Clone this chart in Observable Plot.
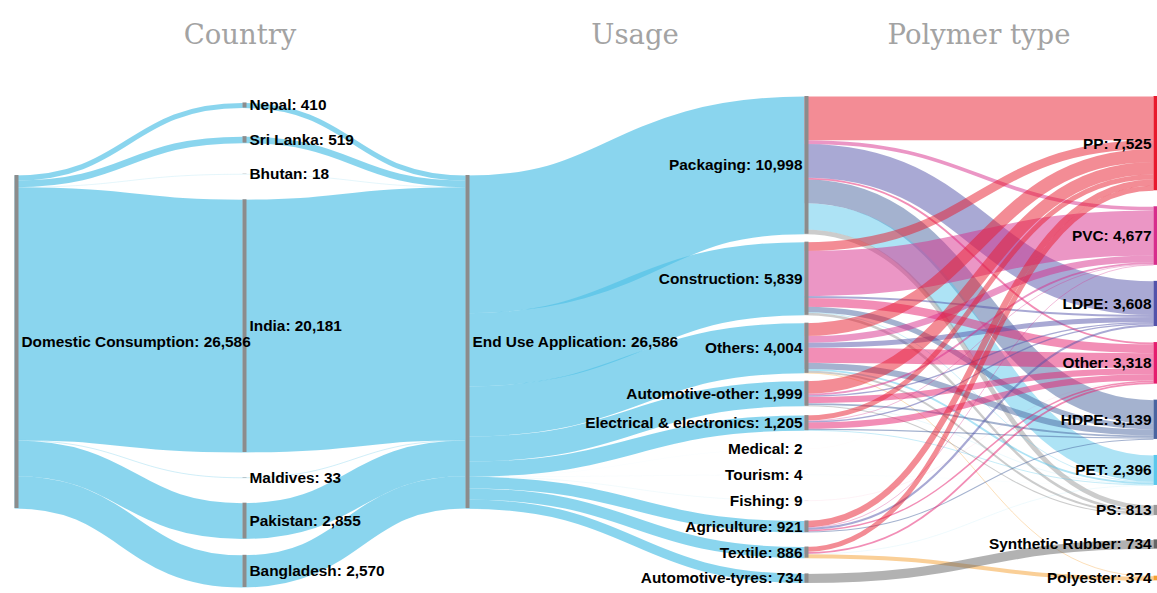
<!DOCTYPE html>
<html>
<head>
<meta charset="utf-8">
<script src="https://cdn.jsdelivr.net/npm/d3@7"></script>
<script src="https://cdn.jsdelivr.net/npm/@observablehq/plot@0.6"></script>
<style>
  html, body { margin: 0; padding: 0; background: #fff; }
  svg { display: block; }
</style>
</head>
<body>
<div id="chart"></div>
<script>
// ---------------- DATA ----------------
const rootName = "Domestic Consumption";
const rootValue = 26586;

const countries = ["Nepal", "Sri Lanka", "Bhutan", "India", "Maldives", "Pakistan", "Bangladesh"];
const countryValues = [410, 519, 18, 20181, 33, 2855, 2570];

const midName = "End Use Application";
const midValue = 26586;

const usages = ["Packaging", "Construction", "Others", "Automotive-other", "Electrical & electronics",
                "Medical", "Tourism", "Fishing", "Agriculture", "Textile", "Automotive-tyres"];
const usageValues = [10998, 5839, 4004, 1999, 1205, 2, 4, 9, 921, 886, 734];

const polymers = ["PP", "PVC", "LDPE", "Other", "HDPE", "PET", "PS", "Synthetic Rubber", "Polyester"];
const polymerValues = [7525, 4677, 3608, 3318, 3139, 2396, 813, 734, 374];

// usage (rows) -> polymer (columns)
const usagePolymerFlows = [
  // PP   PVC   LDPE  Other HDPE  PET   PS   SR   Polyester
  [3489,  300, 2688,  150, 1886, 2102, 383,   0,   0], // Packaging
  [ 700, 3600,  150,  700,  439,   50, 200,   0,   0], // Construction
  [1034,  527,  400, 1189,  500,  150, 150,   0,  54], // Others
  [1000,  150,  100,  500,  150,   19,  80,   0,   0], // Automotive-other
  [ 400,   50,  100,  500,  100,   55,   0,   0,   0], // Electrical & electronics
  [   2,    0,    0,    0,    0,    0,   0,   0,   0], // Medical
  [   0,    0,    0,    0,    0,    4,   0,   0,   0], // Tourism
  [   0,    0,    0,    9,    0,    0,   0,   0,   0], // Fishing
  [ 500,   50,  170,  120,   81,    0,   0,   0,   0], // Agriculture
  [ 400,    0,    0,  150,    0,   16,   0,   0, 320], // Textile
  [   0,    0,    0,    0,    0,    0,   0, 734,   0]  // Automotive-tyres
];

const columnTitles = ["Country", "Usage", "Polymer type"];

// ---------------- STYLE / LAYOUT CONFIG ----------------
const nodeGray = "#8c8c8c";
const flowBlue = "#52c1e6";
const polymerColors = {
  "PP": "#e8192c",
  "PVC": "#d72d8c",
  "LDPE": "#5353aa",
  "Other": "#e51e6e",
  "HDPE": "#4a65a0",
  "PET": "#5bc8ec",
  "PS": "#9a9a9a",
  "Synthetic Rubber": "#666666",
  "Polyester": "#f5a030"
};
// horizontal offset of each column of nodes (layout units along the x scale)
const columnOffsets = [0, 228, 451, 790, 1139];
const W = 1157, H = 593;
const yRange = [96, 587];
const padUnits = 1260;     // minimum spacing between nodes of the densest column (value units)
const labelSlotPx = 18;    // every node reserves at least one label line

// ---------------- LAYOUT ----------------
const nodes = [];
function addNode(name, value, col, color) {
  const n = {name, value, col, x: columnOffsets[col], color, out: [], inc: []};
  nodes.push(n);
  return n;
}
const root = addNode(rootName, rootValue, 0, nodeGray);
const countryNodes = countries.map((c, i) => addNode(c, countryValues[i], 1, nodeGray));
const mid = addNode(midName, midValue, 2, nodeGray);
const usageNodes = usages.map((u, i) => addNode(u, usageValues[i], 3, nodeGray));
const polymerNodes = polymers.map((p, i) => addNode(p, polymerValues[i], 4, polymerColors[p]));

const links = [];
function addLink(s, t, v, level, color) {
  const l = {source: s, target: t, value: v, level, color};
  s.out.push(l); t.inc.push(l); links.push(l);
}
countryNodes.forEach(n => addLink(root, n, n.value, 1, flowBlue));
countryNodes.forEach(n => addLink(n, mid, n.value, 1, flowBlue));
usageNodes.forEach(n => addLink(mid, n, n.value, 1, flowBlue));
usagePolymerFlows.forEach((row, i) => row.forEach((v, j) => {
  if (v > 0) addLink(usageNodes[i], polymerNodes[j], v, 2, polymerColors[polymers[j]]);
}));

const columns = d3.groups(nodes, d => d.col).map(g => g[1]);
const span = d3.max(columns, c => d3.sum(c, d => d.value) + (c.length - 1) * padUnits);
const k = (yRange[1] - yRange[0]) / span; // pixels per value unit
const minSlot = labelSlotPx / k;
for (const c of columns) {
  const total = d3.sum(c, d => d.value);
  if (c.length === 1) {
    c[0].y0 = (span - total) / 2; c[0].y1 = c[0].y0 + total;
  } else {
    const slots = c.map(n => Math.max(n.value, minSlot));
    const pad = (span - d3.sum(slots)) / (c.length - 1);
    let y = 0;
    c.forEach((n, i) => {
      n.y0 = y + (slots[i] - n.value) / 2;
      n.y1 = n.y0 + n.value;
      y += slots[i] + pad;
    });
  }
}
for (const n of nodes) {
  n.out.sort((a, b) => a.target.y0 - b.target.y0);
  n.inc.sort((a, b) => a.source.y0 - b.source.y0);
  let y = n.y0;
  for (const l of n.out) { l.sy = y + l.value / 2; y += l.value; }
  y = n.y0;
  for (const l of n.inc) { l.ty = y + l.value / 2; y += l.value; }
}

const fmt = d3.format(",");
const titleSpans = [[0, 2], [2, 3], [3, 4]];
const titles = columnTitles.map((t, i) => ({
  t, x: (columnOffsets[titleSpans[i][0]] + columnOffsets[titleSpans[i][1]]) / 2
}));

const linkOpts = {
  x1: l => l.source.x, y1: "sy",
  x2: l => l.target.x, y2: "ty",
  stroke: "color",
  strokeWidth: l => l.value * k,
  curve: "bump-x",
  strokeLinecap: "butt"
};

const chart = Plot.plot({
  width: W, height: H,
  margin: 0,
  x: {domain: [0, 1139], range: [14, 1153], axis: null},
  y: {domain: [0, span], range: yRange, axis: null},
  color: {type: "identity"},
  style: {fontFamily: "'Liberation Sans', Arial, Helvetica, sans-serif", background: "#fff", overflow: "visible"},
  marks: [
    Plot.link(links.filter(l => l.level === 1), {...linkOpts, strokeOpacity: 0.68}),
    Plot.link(links.filter(l => l.level === 2), {...linkOpts, strokeOpacity: 0.5}),
    Plot.ruleX(nodes, {x: "x", y1: "y0", y2: "y1", stroke: "color", strokeWidth: 4, dx: 2}),
    Plot.text(nodes.filter(n => n.col < 3), {
      x: "x", y: n => (n.y0 + n.y1) / 2,
      text: n => `${n.name}: ${fmt(n.value)}`,
      textAnchor: "start", dx: 7, fontSize: 15.4, fontWeight: "bold", fill: "#000"
    }),
    Plot.text(nodes.filter(n => n.col >= 3), {
      x: "x", y: n => (n.y0 + n.y1) / 2,
      text: n => `${n.name}: ${fmt(n.value)}`,
      textAnchor: "end", dx: -2, fontSize: 15.4, fontWeight: "bold", fill: "#000"
    }),
    Plot.text(titles, {
      x: "x", text: "t", frameAnchor: "top", dy: 24,
      fontSize: 27.5, fontFamily: "'DejaVu Serif', serif", fill: "#a3a3a3"
    })
  ]
});
document.getElementById("chart").appendChild(chart);
</script>
</body>
</html>
